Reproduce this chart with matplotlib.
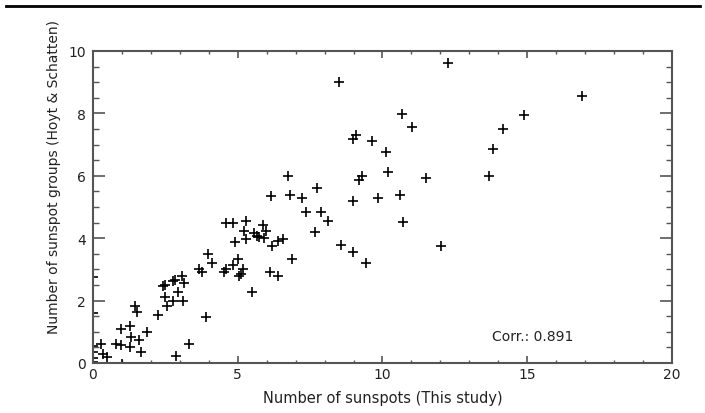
import matplotlib
matplotlib.use("Agg")
import matplotlib.pyplot as plt
from matplotlib.lines import Line2D
from matplotlib.ticker import MultipleLocator

# ------ data ------------------------------------

sunspots = [8.50, 12.26, 10.67, 11.02, 9.08, 8.98, 9.64, 10.12, 6.74, 9.19,
            9.29, 10.19, 11.50, 7.74, 6.15, 6.80, 7.22, 8.98, 9.84, 10.60,
            7.36, 7.88, 8.12, 10.70, 7.67, 6.56, 6.39, 6.20, 8.57, 8.98,
            9.43, 12.02, 6.87, 6.11, 6.39, 16.89, 14.89, 14.16, 13.82, 13.68,
            4.59, 4.84, 5.28, 5.22, 5.87, 5.98, 5.56, 5.66, 5.73, 5.90,
            5.28, 4.90, 3.97, 4.11, 5.00, 4.84, 3.66, 3.77, 4.59, 4.52,
            5.18, 5.11, 5.04, 5.49, 2.42, 2.50, 2.76, 2.83, 3.07, 3.14,
            2.94, 2.49, 2.76, 3.11, 2.56, 1.45, 1.52, 2.25, 3.90, 0.97,
            1.28, 1.87, 1.31, 1.59, 0.28, 0.79, 0.97, 1.28, 3.32, 1.66,
            0.35, 0.48, 2.87, 1.00, 0.00, 0.00, 0.00, 0.00, 0.00, 0.00]

groups = [9.00, 9.62, 7.98, 7.56, 7.31, 7.18, 7.12, 6.76, 6.00, 5.87,
          5.99, 6.12, 5.93, 5.60, 5.36, 5.38, 5.28, 5.18, 5.28, 5.38,
          4.84, 4.84, 4.55, 4.52, 4.20, 3.97, 3.91, 3.75, 3.78, 3.55,
          3.20, 3.74, 3.33, 2.92, 2.79, 8.56, 7.95, 7.50, 6.86, 5.99,
          4.49, 4.49, 4.55, 4.23, 4.42, 4.23, 4.17, 4.07, 4.04, 4.00,
          3.97, 3.88, 3.49, 3.20, 3.33, 3.14, 3.01, 2.92, 3.01, 2.92,
          3.01, 2.85, 2.79, 2.28, 2.47, 2.50, 2.63, 2.66, 2.79, 2.56,
          2.28, 2.12, 1.99, 1.99, 1.83, 1.83, 1.63, 1.54, 1.47, 1.09,
          1.19, 0.99, 0.83, 0.74, 0.61, 0.61, 0.58, 0.51, 0.62, 0.35,
          0.30, 0.19, 0.22, -0.03, 2.75, 1.60, 0.55, 0.35, 0.15, 0.03]

corr_text = "Corr.: 0.891"

# ----------- plot ---------------------------------

plt.rcParams['font.family'] = ['DejaVu Sans']

fig = plt.figure(figsize=(7.05, 4.14), dpi=100)
ax = fig.add_axes([0.1319, 0.1208, 0.8213, 0.7536])

ax.plot(sunspots, groups, '+', color='black', markersize=6.5, markeredgewidth=1.2)

ax.set_xlim(0, 20)
ax.set_ylim(0, 10)
ax.xaxis.set_major_locator(MultipleLocator(5))
ax.xaxis.set_minor_locator(MultipleLocator(1))
ax.yaxis.set_major_locator(MultipleLocator(2))
ax.yaxis.set_minor_locator(MultipleLocator(0.5))

axcol = '#555555'
for s in ax.spines.values():
    s.set_color(axcol)
    s.set_linewidth(1.5)

ax.tick_params(axis='x', which='major', direction='in', top=True, length=5,
               width=1.2, color=axcol, labelsize=10, labelcolor='#222222', pad=3)
ax.tick_params(axis='x', which='minor', direction='in', top=True, length=2.5,
               width=1.0, color=axcol)
ax.tick_params(axis='y', which='major', direction='in', right=True, length=8.5,
               width=1.2, color=axcol, labelsize=10, labelcolor='#222222', pad=5)
ax.tick_params(axis='y', which='minor', direction='in', right=True, length=4,
               width=1.0, color=axcol)

ax.set_xlabel('Number of sunspots (This study)', fontsize=10.5, color='#222222')
ax.xaxis.set_label_coords(0.5, -0.085)
ax.set_ylabel('Number of sunspot groups (Hoyt & Schatten)', fontsize=10,
              color='#222222')
ax.yaxis.set_label_coords(-0.055, 0.6)

ax.text(13.78, 0.87, corr_text, fontsize=10, color='#222222', va='center', ha='left')

# horizontal rule across the top of the page
fig.add_artist(Line2D([0.008, 0.993], [0.983, 0.983], color='black', linewidth=2,
                      transform=fig.transFigure))

plt.savefig('out.png', dpi=100)
